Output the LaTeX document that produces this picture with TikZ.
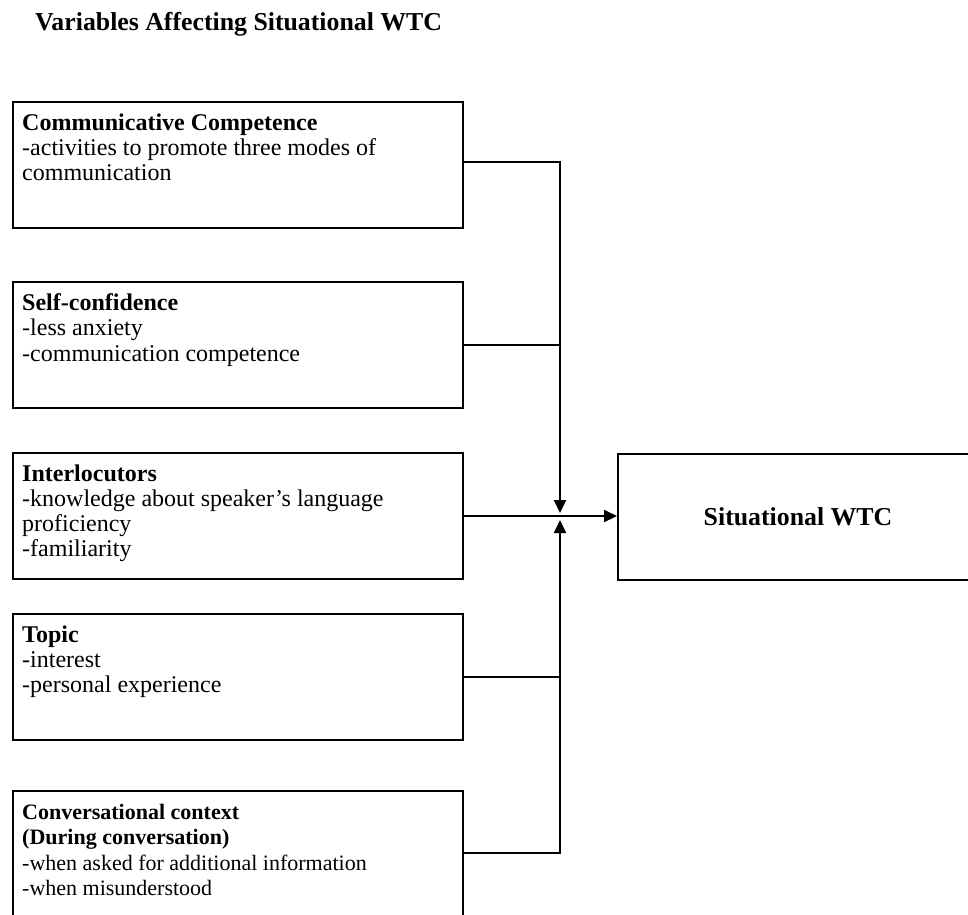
\documentclass[tikz,border=0pt]{standalone}
\usepackage{fontspec}
\setmainfont{Liberation Serif}
\usetikzlibrary{arrows.meta,calc}
\begin{document}
\begin{tikzpicture}[x=1pt,y=-1pt,
  box/.style={draw,line width=2pt,rectangle,inner sep=0pt,minimum width=450pt,minimum height=126pt,anchor=north west},
  boxtext/.style={anchor=north west,inner sep=0pt,align=left,font=\fontsize{24}{25.2}\selectfont},
  smalltext/.style={boxtext,font=\fontsize{22}{25.3}\selectfont},
  big/.style={font=\fontsize{25.8}{30}\selectfont\bfseries},
  conn/.style={line width=2pt},
  arr/.style={conn,-{Triangle[length=13pt,width=12pt]}}]
\clip (0,0) rectangle (968,914);
\useasboundingbox (0,0) rectangle (968,914);
\node[big,anchor=base west,inner sep=0pt] (title) at (35,30) {Variables Affecting Situational WTC};
\node[box] (b1) at (12,101) {};
\node[box] (b2) at (12,281) {};
\node[box] (b3) at (12,452) {};
\node[box] (b4) at (12,613) {};
\node[box,minimum height=200pt] (b5) at (12,790) {};
\node[boxtext] (t1) at ($(b1.north west)+(10,12.5)$) {\textbf{Communicative Competence}\\-activities to promote three modes of\\communication};
\node[boxtext] (t2) at ($(b2.north west)+(10,12.5)$) {\textbf{Self-confidence}\\-less anxiety\\-communication competence};
\node[boxtext] (t3) at ($(b3.north west)+(10,12.5)$) {\textbf{Interlocutors}\\-knowledge about speaker’s language\\proficiency\\-familiarity};
\node[boxtext] (t4) at ($(b4.north west)+(10,12.5)$) {\textbf{Topic}\\-interest\\-personal experience};
\node[smalltext] (t5) at ($(b5.north west)+(10,14)$) {\textbf{Conversational context}\\\textbf{(During conversation)}\\-when asked for additional information\\-when misunderstood};
\node[draw,line width=2pt,rectangle,minimum width=360pt,minimum height=126pt,big] (out) at (798,517) {Situational WTC};
\coordinate (jt) at (560,513);
\coordinate (jb) at (560,520);
\draw[arr] (b1.east |- 0,162) -| (jt);
\draw[conn] (b2.east) -- (b2.east -| jt);
\draw[arr] (b3.east) -- (out.west |- b3.east);
\draw[conn] (b4.east) -- (b4.east -| jb);
\draw[arr] (b5.east |- 0,853) -| (jb);
\end{tikzpicture}
\end{document}
